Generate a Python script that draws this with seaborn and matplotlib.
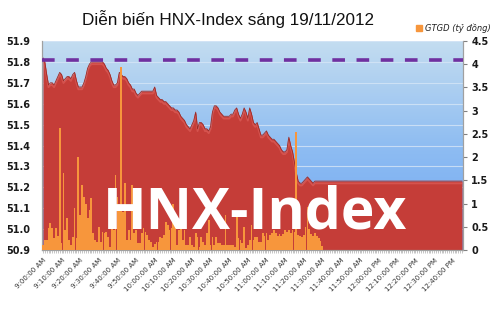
import numpy as np
import pandas as pd
import matplotlib
matplotlib.use("Agg")
import matplotlib.pyplot as plt
from matplotlib.colors import LinearSegmentedColormap
import seaborn as sns

# ---------------- data ----------------
index_session = [
    51.82, 51.80, 51.74, 51.69, 51.70, 51.70, 51.69, 51.71, 51.73, 51.75,
    51.74, 51.71, 51.72, 51.73, 51.73, 51.72, 51.74, 51.75, 51.71, 51.68,
    51.68, 51.68, 51.70, 51.73, 51.77, 51.79, 51.80, 51.80, 51.80, 51.80,
    51.80, 51.80, 51.80, 51.79, 51.77, 51.76, 51.74, 51.71, 51.69, 51.69,
    51.70, 51.75, 51.74, 51.73, 51.73, 51.72, 51.70, 51.69, 51.67, 51.67,
    51.65, 51.64, 51.65, 51.66, 51.66, 51.66, 51.66, 51.66, 51.66, 51.66,
    51.68, 51.64, 51.63, 51.62, 51.62, 51.61, 51.61, 51.60, 51.59, 51.58,
    51.58, 51.57, 51.57, 51.56, 51.54, 51.53, 51.52, 51.50, 51.49, 51.48,
    51.50, 51.52, 51.56, 51.48, 51.51, 51.51, 51.50, 51.48, 51.48, 51.47,
    51.49, 51.56, 51.59, 51.59, 51.58, 51.56, 51.55, 51.54, 51.54, 51.54,
    51.54, 51.55, 51.55, 51.57, 51.58, 51.55, 51.53, 51.55, 51.58, 51.56,
    51.53, 51.58, 51.55, 51.51, 51.50, 51.51, 51.48, 51.45, 51.45, 51.46,
    51.47, 51.45, 51.44, 51.43, 51.43, 51.42, 51.41, 51.40, 51.38, 51.37,
    51.37, 51.38, 51.44, 51.40, 51.37, 51.32, 51.27, 51.23, 51.22, 51.22,
    51.23, 51.24, 51.25, 51.24, 51.23, 51.22, 51.23, 51.23, 51.23, 51.23,
    51.23,
]
closing_index = 51.23          # held after the session ends
n_after = 75                   # minutes 11:31 .. 12:45

volume_session = [
    0.10, 0.22, 0.22, 0.47, 0.58, 0.47, 0.26, 0.47, 0.30, 2.63,
    0.15, 1.66, 0.43, 0.69, 0.22, 0.11, 0.28, 0.90, 0.26, 2.00,
    0.75, 1.40, 1.14, 1.00, 0.69, 0.86, 1.12, 0.37, 0.22, 0.17,
    0.50, 0.17, 0.39, 0.37, 0.39, 0.28, 0.06, 0.65, 0.43, 1.62,
    1.14, 1.00, 3.94, 0.82, 1.44, 0.22, 0.43, 0.22, 1.40, 0.37,
    0.43, 0.15, 0.15, 0.37, 0.47, 0.39, 0.32, 0.22, 0.17, 0.06,
    0.13, 0.17, 0.17, 0.28, 0.26, 0.32, 0.60, 0.54, 0.43, 0.47,
    1.00, 0.65, 0.11, 0.43, 0.75, 0.22, 0.43, 0.11, 0.11, 0.28,
    0.11, 0.06, 0.37, 0.28, 0.06, 0.28, 0.17, 0.11, 0.37, 0.65,
    0.11, 0.28, 0.11, 0.28, 0.15, 0.15, 0.11, 0.11, 0.75, 0.11,
    0.11, 0.11, 0.11, 0.06, 0.80, 0.25, 0.22, 0.15, 0.50, 0.04,
    0.11, 0.22, 0.54, 0.22, 0.28, 0.28, 0.17, 0.17, 0.37, 0.30,
    0.37, 0.22, 0.32, 0.37, 0.43, 0.37, 0.30, 0.34, 0.30, 0.34,
    0.43, 0.40, 0.43, 0.37, 0.43, 0.40, 2.54, 0.32, 0.30, 0.28,
    0.32, 0.50, 0.93, 0.45, 0.35, 0.30, 0.37, 0.30, 0.25, 0.20,
    0.08,
]
reference_level = 51.81        # purple dashed line

tick_labels = [
    "9:00:00 AM", "9:10:00 AM", "9:20:00 AM", "9:30:00 AM", "9:40:00 AM",
    "9:50:00 AM", "10:00:00 AM", "10:10:00 AM", "10:20:00 AM", "10:30:00 AM",
    "10:40:00 AM", "10:50:00 AM", "11:00:00 AM", "11:10:00 AM", "11:20:00 AM",
    "11:30:00 AM", "11:40:00 AM", "11:50:00 AM", "12:00:00 PM", "12:10:00 PM",
    "12:20:00 PM", "12:30:00 PM", "12:40:00 PM",
]

title = "Diễn biến HNX-Index sáng 19/11/2012"
legend_label = "GTGD (tỷ đồng)"
watermark = "HNX-Index"

# ---------------- frame ----------------
index_all = index_session + [closing_index] * n_after
volume_all = volume_session + [0.0] * n_after
minutes = np.arange(len(index_all))
df = pd.DataFrame({"minute": minutes, "index": index_all, "volume": volume_all})

sns.set_style("white")
plt.rcParams["font.family"] = ["DejaVu Sans"]

fig = plt.figure(figsize=(5.0, 3.13), dpi=100)
ax = fig.add_axes([0.084, 0.201, 0.842, 0.668])
ax2 = ax.twinx()

xmin, xmax = -0.5, len(index_all) - 0.5
ymin, ymax = 50.9, 51.9

# gradient background of plot area
cmap = LinearSegmentedColormap.from_list("bg", ["#6ea6f4", "#8fbdf2", "#c4ddf0"])
grad = np.linspace(0, 1, 256).reshape(-1, 1)
ax.imshow(grad, extent=[xmin, xmax, ymax, ymin], aspect="auto", cmap=cmap,
          zorder=0, interpolation="bilinear")

# grid lines
for v in np.arange(51.0, 51.95, 0.1):
    ax.axhline(v, color="#d6e6f7", lw=0.8, alpha=0.8, zorder=1)

# index area
ax.fill_between(df["minute"], ymin, df["index"], color="#c53d38", zorder=2, lw=0)
ax.plot(df["minute"], df["index"] - 0.011, color="#e0625e", lw=1.3, zorder=2.5,
        alpha=0.6)
sns.lineplot(data=df, x="minute", y="index", ax=ax, color="#9c2a26", lw=0.6, zorder=3)

# volume bars
sns.barplot(data=df, x="minute", y="volume", ax=ax2, native_scale=True,
            color="#f7963c", width=0.95, saturation=1, edgecolor="none", zorder=3)

# dashed reference line
ax2.axhline((reference_level - ymin) * 4.5 / (ymax - ymin), color="#7030a0",
            lw=2.6, dashes=(3.5, 3.2), zorder=5)

# watermark
ax2.text(0.505, 0.175, watermark, transform=ax2.transAxes, ha="center", va="center",
         color="white", fontsize=41, fontweight="bold", family="Open Sans", zorder=6)

# limits
ax.set_xlim(xmin, xmax)
ax2.set_xlim(xmin, xmax)
ax.set_ylim(ymin, ymax)
ax2.set_ylim(0, 4.5)

# axes styling
for a in (ax, ax2):
    a.set_xlabel("")
    a.set_ylabel("")

ax.set_yticks(np.round(np.arange(50.9, 51.95, 0.1), 1))
ax.set_yticklabels([f"{v:.1f}" for v in np.arange(50.9, 51.95, 0.1)],
                   fontsize=7, fontweight="bold", color="#1a1a1a")
ax2.set_yticks(np.arange(0, 4.6, 0.5))
ax2.set_yticklabels(["0", "0.5", "1", "1.5", "2", "2.5", "3", "3.5", "4", "4.5"],
                    fontsize=7, fontweight="bold", color="#1a1a1a")
ax.tick_params(axis="y", length=0, pad=8.5)
ax2.tick_params(axis="y", length=3, width=0.8, color="#808080", pad=3)

ax.set_xticks(np.arange(0, len(index_all), 10))
ax.set_xticklabels(tick_labels, rotation=45, ha="right", rotation_mode="anchor",
                   fontsize=5, color="#333333")
ax.set_xticks(minutes, minor=True)
ax.tick_params(axis="x", which="minor", length=2, width=0.4, color="#999999",
               bottom=True)
ax.tick_params(axis="x", which="major", length=2, width=0.4, color="#999999",
               pad=3, bottom=True, labelbottom=True)

for a in (ax, ax2):
    a.spines["top"].set_visible(False)
    for s in ("left", "right", "bottom"):
        a.spines[s].set_color("#a0a0a0")
        a.spines[s].set_linewidth(0.8)

# title & legend
fig.text(0.456, 0.94, title, ha="center", va="center", fontsize=12.3,
         family="Liberation Sans", color="#111111")
fig.patches.append(plt.Rectangle((0.832, 0.902), 0.011, 0.018, color="#f7963c",
                                 transform=fig.transFigure, figure=fig))
fig.text(0.850, 0.911, legend_label, ha="left", va="center", fontsize=6,
         style="italic", color="#222222")

fig.savefig("out.png", dpi=100)
